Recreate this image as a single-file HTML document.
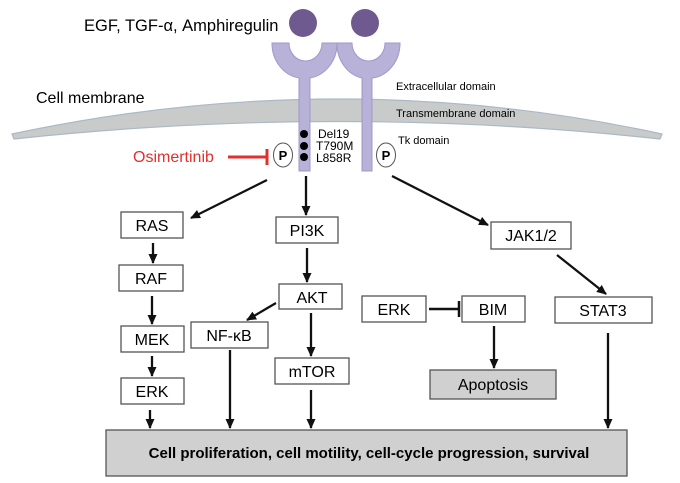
<!DOCTYPE html>
<html><head><meta charset="utf-8"><style>
html,body{margin:0;padding:0;background:#fff;}
svg{display:block;font-family:"Liberation Sans",Arial,sans-serif;}
</style></head><body>
<svg width="680" height="483" viewBox="0 0 680 483" xmlns="http://www.w3.org/2000/svg">
<defs>
<marker id="ah" markerWidth="10" markerHeight="9" refX="9" refY="4.5" orient="auto" markerUnits="userSpaceOnUse">
<path d="M0,0 L10,4.5 L0,9 z" fill="#111"/></marker>
</defs>
<path d="M12,134 Q340,64 662,134 L660,139 Q340,104 14,139 Z" fill="#c9cbcb" stroke="#a9b9c6" stroke-width="1.2"/>
<circle cx="303" cy="23" r="14" fill="#6f5a8f"/>
<circle cx="365" cy="23" r="14" fill="#6f5a8f"/>
<g fill="#b8b1d8" stroke="#a098c9" stroke-width="1">
<path d="M272,43 L289,43 A16.5,18 0 0 0 322,43 L337,43 A32,35 0 0 1 310,78 L310,171 L299,171 L299,78 A32,35 0 0 1 272,43 Z"/>
<path d="M337,43 L352,43 A16.5,18 0 0 0 385,43 L400,43 A31,35 0 0 1 372,78 L372,171 L362,171 L362,78 A31,35 0 0 1 337,43 Z"/>
</g>
<text x="84" y="31" font-size="16.5">EGF, TGF-α, Amphiregulin</text>
<text x="36" y="103" font-size="16">Cell membrane</text>
<text x="396" y="90" font-size="11">Extracellular domain</text>
<text x="396" y="117" font-size="11">Transmembrane domain</text>
<text x="398" y="144" font-size="11">Tk domain</text>
<circle cx="304" cy="134" r="4" fill="#000"/>
<circle cx="304" cy="146" r="4" fill="#000"/>
<circle cx="304" cy="157" r="4" fill="#000"/>
<text x="318" y="138" font-size="12">Del19</text>
<text x="316" y="150" font-size="12">T790M</text>
<text x="316" y="162" font-size="12">L858R</text>
<ellipse cx="283" cy="155" rx="9.5" ry="12" fill="#fff" stroke="#555"/>
<text x="283" y="160" font-size="13" font-weight="bold" text-anchor="middle">P</text>
<ellipse cx="386" cy="155" rx="9.5" ry="12" fill="#fff" stroke="#555"/>
<text x="386" y="160" font-size="13" font-weight="bold" text-anchor="middle">P</text>
<text x="133" y="162" font-size="16" fill="#e0312d">Osimertinib</text>
<line x1="228" y1="157" x2="267" y2="157" stroke="#e0312d" stroke-width="3"/>
<line x1="267" y1="149" x2="267" y2="165" stroke="#e0312d" stroke-width="3"/>
<g fill="#fff" stroke="#555" stroke-width="1.3">
<rect x="121" y="212" width="62" height="26"/>
<rect x="276" y="217" width="62" height="26"/>
<rect x="491" y="222" width="80" height="27"/>
<rect x="119" y="265" width="64" height="26"/>
<rect x="279" y="284" width="63" height="25"/>
<rect x="362" y="296" width="64" height="26"/>
<rect x="462" y="296" width="63" height="26"/>
<rect x="555" y="297" width="97" height="26"/>
<rect x="121" y="326" width="63" height="26"/>
<rect x="191" y="322" width="77" height="26"/>
<rect x="275" y="358" width="74" height="26"/>
<rect x="121" y="378" width="63" height="26"/>
</g>
<g fill="#d0d0d0" stroke="#555" stroke-width="1.3">
<rect x="430" y="370" width="126" height="29"/>
<rect x="106" y="430" width="521" height="46"/>
</g>
<g font-size="16" text-anchor="middle">
<text x="152" y="231">RAS</text>
<text x="307" y="236">PI3K</text>
<text x="531" y="241">JAK1/2</text>
<text x="151" y="284">RAF</text>
<text x="312" y="303">AKT</text>
<text x="394" y="315">ERK</text>
<text x="493" y="315">BIM</text>
<text x="603" y="316">STAT3</text>
<text x="152" y="345">MEK</text>
<text x="229" y="341">NF-κB</text>
<text x="312" y="377">mTOR</text>
<text x="152" y="397">ERK</text>
<text x="493" y="390">Apoptosis</text>
<text x="369" y="458" font-weight="bold" font-size="15">Cell proliferation, cell motility, cell-cycle progression, survival</text>
</g>
<g stroke="#111" stroke-width="2.3" marker-end="url(#ah)">
<line x1="267" y1="180" x2="191" y2="218"/>
<line x1="306" y1="176" x2="306" y2="215"/>
<line x1="392" y1="176" x2="488" y2="225"/>
<line x1="557" y1="255" x2="606" y2="294"/>
<line x1="153" y1="243" x2="153" y2="263"/>
<line x1="152" y1="296" x2="152" y2="324"/>
<line x1="152" y1="356" x2="152" y2="376"/>
<line x1="150" y1="410" x2="150" y2="428"/>
<line x1="307" y1="248" x2="307" y2="282"/>
<line x1="276" y1="303" x2="247" y2="320"/>
<line x1="311" y1="313" x2="311" y2="356"/>
<line x1="230" y1="350" x2="230" y2="428"/>
<line x1="311" y1="390" x2="311" y2="428"/>
<line x1="494" y1="326" x2="494" y2="368"/>
<line x1="608" y1="333" x2="608" y2="428"/>
</g>
<line x1="429" y1="309" x2="459" y2="309" stroke="#111" stroke-width="2.5"/>
<line x1="459" y1="301" x2="459" y2="317" stroke="#111" stroke-width="2.5"/>
</svg>
</body></html>
